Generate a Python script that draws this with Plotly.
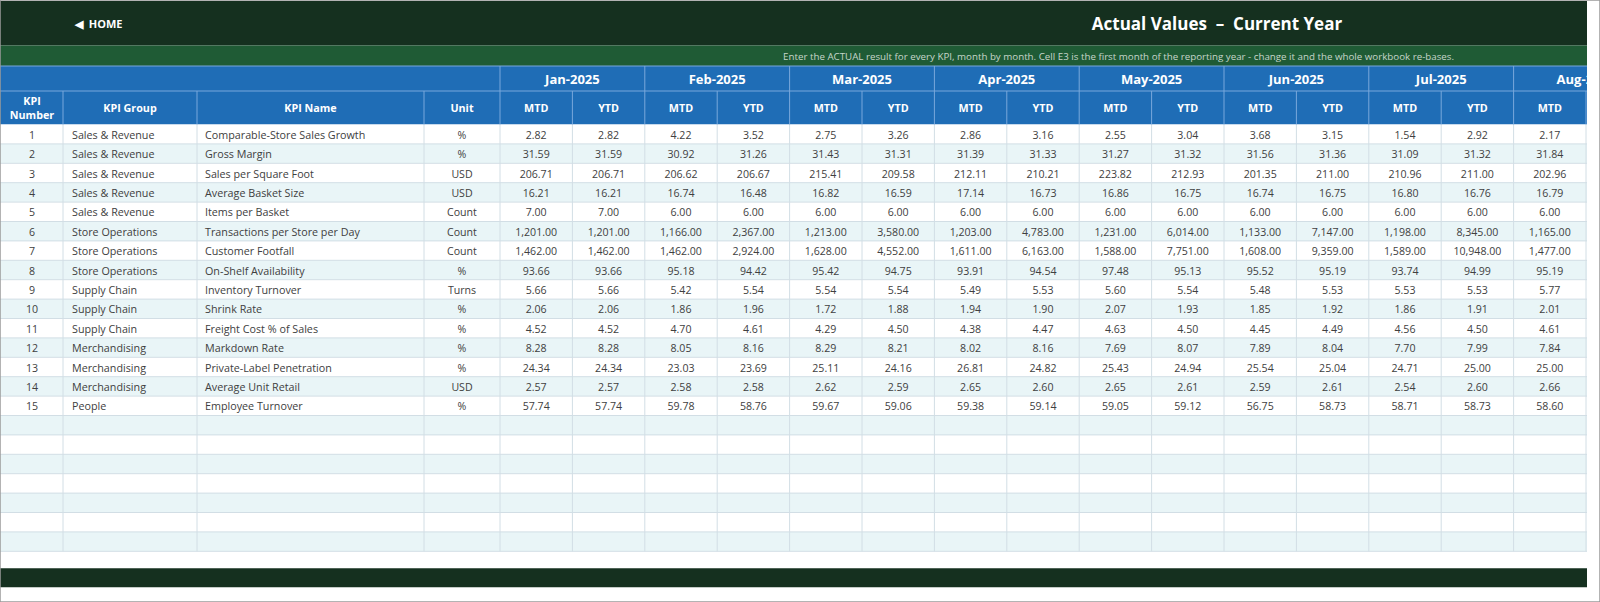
import plotly.graph_objects as go

# ---------------- data ----------------
kpi_number = [1, 2, 3, 4, 5, 6, 7, 8, 9, 10, 11, 12, 13, 14, 15]
kpi_group = ["Sales & Revenue", "Sales & Revenue", "Sales & Revenue", "Sales & Revenue",
             "Sales & Revenue", "Store Operations", "Store Operations", "Store Operations",
             "Supply Chain", "Supply Chain", "Supply Chain", "Merchandising",
             "Merchandising", "Merchandising", "People"]
kpi_name = ["Comparable-Store Sales Growth", "Gross Margin", "Sales per Square Foot",
            "Average Basket Size", "Items per Basket", "Transactions per Store per Day",
            "Customer Footfall", "On-Shelf Availability", "Inventory Turnover", "Shrink Rate",
            "Freight Cost % of Sales", "Markdown Rate", "Private-Label Penetration",
            "Average Unit Retail", "Employee Turnover"]
kpi_unit = ["%", "%", "USD", "USD", "Count", "Count", "Count", "%", "Turns", "%", "%", "%",
            "%", "USD", "%"]

months = ["Jan-2025", "Feb-2025", "Mar-2025", "Apr-2025", "May-2025", "Jun-2025",
          "Jul-2025", "Aug-2025"]

jan_mtd = [2.82, 31.59, 206.71, 16.21, 7.00, 1201, 1462, 93.66, 5.66, 2.06, 4.52, 8.28, 24.34, 2.57, 57.74]
jan_ytd = [2.82, 31.59, 206.71, 16.21, 7.00, 1201, 1462, 93.66, 5.66, 2.06, 4.52, 8.28, 24.34, 2.57, 57.74]
feb_mtd = [4.22, 30.92, 206.62, 16.74, 6.00, 1166, 1462, 95.18, 5.42, 1.86, 4.70, 8.05, 23.03, 2.58, 59.78]
feb_ytd = [3.52, 31.26, 206.67, 16.48, 6.00, 2367, 2924, 94.42, 5.54, 1.96, 4.61, 8.16, 23.69, 2.58, 58.76]
mar_mtd = [2.75, 31.43, 215.41, 16.82, 6.00, 1213, 1628, 95.42, 5.54, 1.72, 4.29, 8.29, 25.11, 2.62, 59.67]
mar_ytd = [3.26, 31.31, 209.58, 16.59, 6.00, 3580, 4552, 94.75, 5.54, 1.88, 4.50, 8.21, 24.16, 2.59, 59.06]
apr_mtd = [2.86, 31.39, 212.11, 17.14, 6.00, 1203, 1611, 93.91, 5.49, 1.94, 4.38, 8.02, 26.81, 2.65, 59.38]
apr_ytd = [3.16, 31.33, 210.21, 16.73, 6.00, 4783, 6163, 94.54, 5.53, 1.90, 4.47, 8.16, 24.82, 2.60, 59.14]
may_mtd = [2.55, 31.27, 223.82, 16.86, 6.00, 1231, 1588, 97.48, 5.60, 2.07, 4.63, 7.69, 25.43, 2.65, 59.05]
may_ytd = [3.04, 31.32, 212.93, 16.75, 6.00, 6014, 7751, 95.13, 5.54, 1.93, 4.50, 8.07, 24.94, 2.61, 59.12]
jun_mtd = [3.68, 31.56, 201.35, 16.74, 6.00, 1133, 1608, 95.52, 5.48, 1.85, 4.45, 7.89, 25.54, 2.59, 56.75]
jun_ytd = [3.15, 31.36, 211.00, 16.75, 6.00, 7147, 9359, 95.19, 5.53, 1.92, 4.49, 8.04, 25.04, 2.61, 58.73]
jul_mtd = [1.54, 31.09, 210.96, 16.80, 6.00, 1198, 1589, 93.74, 5.53, 1.86, 4.56, 7.70, 24.71, 2.54, 58.71]
jul_ytd = [2.92, 31.32, 211.00, 16.76, 6.00, 8345, 10948, 94.99, 5.53, 1.91, 4.50, 7.99, 25.00, 2.60, 58.73]
aug_mtd = [2.17, 31.84, 202.96, 16.79, 6.00, 1165, 1477, 95.19, 5.77, 2.01, 4.61, 7.84, 25.00, 2.66, 58.60]

value_cols = [jan_mtd, jan_ytd, feb_mtd, feb_ytd, mar_mtd, mar_ytd, apr_mtd, apr_ytd,
              may_mtd, may_ytd, jun_mtd, jun_ytd, jul_mtd, jul_ytd, aug_mtd]

title = "Actual Values  \u2013  Current Year"
subtitle = ("Enter the ACTUAL result for every KPI, month by month. Cell E3 is the first month "
            "of the reporting year - change it and the whole workbook re-bases.")

# ---------------- layout / style ----------------
W, H = 1600, 602
X_END = 1587                       # right edge of the sheet area
fixed_edges = [1, 63, 197, 424, 500]
MONTH_W = 72.4                      # width of one MTD / YTD column
n_val_cols = 16                     # 8 months x 2 (the last one falls off the screen)
val_edges = [fixed_edges[-1] + MONTH_W * i for i in range(n_val_cols + 1)]
col_edges = fixed_edges + val_edges[1:]

HDR_TOP, HDR_BOT = 1, 45.5
BAND_BOT = 66
MONTH_BOT = 91
SUB_BOT = 124.5
ROW_H = 19.4
N_ROWS = 22
TABLE_BOT = SUB_BOT + ROW_H * N_ROWS
DY = 2                              # plotly sets "middle" text a touch high

DARK = "#15301f"
GREEN = "#1f5b35"
BLUE = "#1f6db6"
BLUE_LINE = "#79a8dc"
ALT = "#e9f5f7"
GRID = "#d2dee5"
TXT = "#404040"
FONT = "Open Sans"

shapes = []


def rect(x0, x1, y0, y1, color, layer="below"):
    shapes.append(dict(type="rect", xref="x", yref="y", x0=x0, x1=x1, y0=y0, y1=y1,
                       fillcolor=color, line_width=0, layer=layer))


def line(x0, x1, y0, y1, color, w=1):
    shapes.append(dict(type="line", xref="x", yref="y", x0=x0, x1=x1, y0=y0, y1=y1,
                       line=dict(color=color, width=w), layer="below"))


# banners
rect(0, X_END, HDR_TOP, HDR_BOT, DARK)
rect(0, X_END, HDR_BOT, BAND_BOT, GREEN)
rect(0, X_END, BAND_BOT, SUB_BOT, BLUE)
rect(0, X_END, TABLE_BOT + 17, TABLE_BOT + 36, DARK)

# body rows
for r in range(N_ROWS):
    y0 = SUB_BOT + r * ROW_H
    rect(0, X_END, y0, y0 + ROW_H, "white" if r % 2 == 0 else ALT)

# body grid
for r in range(1, N_ROWS + 1):
    y = SUB_BOT + r * ROW_H
    line(0, X_END, y, y, GRID)
for x in col_edges[1:]:
    line(x, x, SUB_BOT, TABLE_BOT, GRID)

# header grid
line(0, X_END, MONTH_BOT, MONTH_BOT, BLUE_LINE)
line(0, X_END, BAND_BOT, BAND_BOT, BLUE_LINE)
for x in val_edges[::2]:
    line(x, x, BAND_BOT, MONTH_BOT, BLUE_LINE)
for x in col_edges[1:]:
    line(x, x, MONTH_BOT, SUB_BOT, BLUE_LINE)

# outer frame of the screenshot
shapes.append(dict(type="rect", xref="paper", yref="paper", x0=0, x1=1, y0=0, y1=1,
                   line=dict(color="#9a9a9a", width=1.5), fillcolor="rgba(0,0,0,0)"))

fig = go.Figure()


def text_trace(xs, ys, texts, pos, color, size, bold=False):
    fig.add_trace(go.Scatter(
        x=xs, y=[y + DY for y in ys], text=texts, mode="text", textposition=pos,
        textfont=dict(family=FONT, size=size, color=color,
                      weight="bold" if bold else "normal"),
        hoverinfo="skip", showlegend=False, cliponaxis=True))


def mid(a, b):
    return (a + b) / 2


row_y = [SUB_BOT + ROW_H * (i + 0.5) for i in range(len(kpi_number))]

# body - centered cells
cx, cy, ct = [], [], []
for i, y in enumerate(row_y):
    cx += [mid(col_edges[0], col_edges[1]), mid(col_edges[3], col_edges[4])]
    cy += [y, y]
    ct += [str(kpi_number[i]), kpi_unit[i]]
    for j, col in enumerate(value_cols):
        cx.append(mid(val_edges[j], val_edges[j + 1]))
        cy.append(y)
        ct.append(f"{col[i]:,.2f}")
text_trace(cx, cy, ct, "middle center", TXT, 10.6)

# body - left aligned cells
lx, ly, lt = [], [], []
for i, y in enumerate(row_y):
    lx += [col_edges[1] + 9, col_edges[2] + 8]
    ly += [y, y]
    lt += [kpi_group[i], kpi_name[i]]
text_trace(lx, ly, lt, "middle right", TXT, 10.75)

# header labels
sub_y = mid(MONTH_BOT, SUB_BOT)
hx = [mid(col_edges[0], col_edges[1]), mid(col_edges[1], col_edges[2]),
      mid(col_edges[2], col_edges[3]), mid(col_edges[3], col_edges[4])]
hy = [sub_y] * 4
ht = ["KPI<br>Number", "KPI Group", "KPI Name", "Unit"]
for j in range(len(value_cols)):
    hx.append(mid(val_edges[j], val_edges[j + 1]))
    hy.append(sub_y)
    ht.append("MTD" if j % 2 == 0 else "YTD")
text_trace(hx, hy, ht, "middle center", "white", 10.75, bold=True)

mx = [mid(val_edges[2 * k], val_edges[2 * k + 2]) for k in range(len(months))]
text_trace(mx, [mid(BAND_BOT, MONTH_BOT)] * len(months), months, "middle center",
           "white", 13, bold=True)

# banner texts
text_trace([75], [mid(HDR_TOP, HDR_BOT)], ["\u25c0\u00a0 HOME"], "middle right", "white", 11, bold=True)
text_trace([1217], [mid(HDR_TOP, HDR_BOT)], [title], "middle center", "white", 17, bold=True)
text_trace([1454], [mid(HDR_BOT, BAND_BOT)], [subtitle], "middle left", "#c6d6ca", 9.75)

fig.update_layout(
    width=W, height=H,
    margin=dict(l=0, r=0, t=0, b=0),
    paper_bgcolor="white", plot_bgcolor="white",
    shapes=shapes,
    xaxis=dict(range=[0, X_END], domain=[0, X_END / W], visible=False, fixedrange=True),
    yaxis=dict(range=[H, 0], visible=False, fixedrange=True),
    hovermode=False,
)

fig.write_html("out.html", config={"displayModeBar": False},
               post_script="document.body.style.margin='0';")
